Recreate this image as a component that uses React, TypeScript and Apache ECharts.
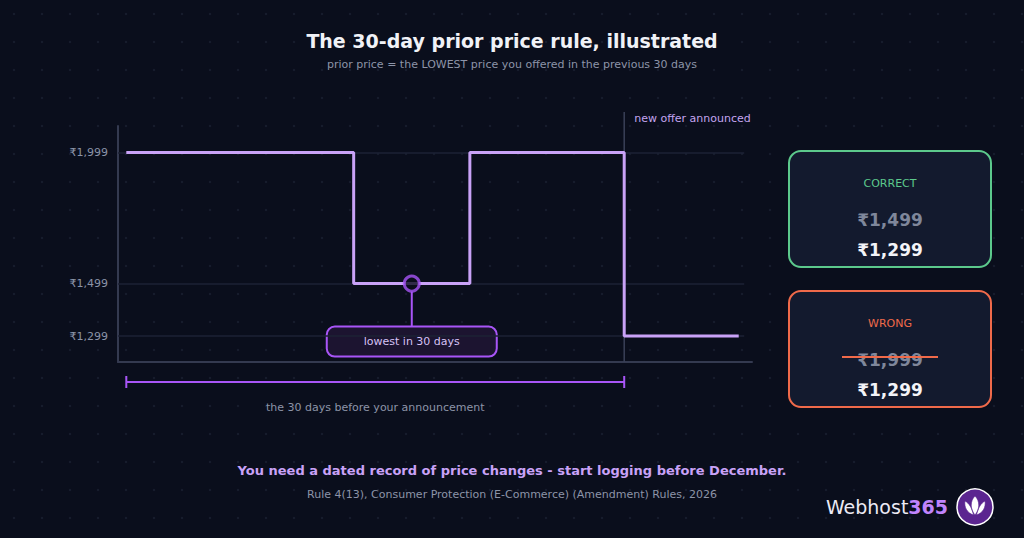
import React, { useEffect, useRef } from "react";
import * as echarts from "echarts";

// ---- data ----
const dayPoints = [-30, -16.3, -16.3, -9.3, -9.3, 0, 0, 6.9];
const pricePoints = [1999, 1999, 1499, 1499, 1999, 1999, 1299, 1299];
const priceTicks = [1299, 1499, 1999];
const lowestPoint = [-12.8, 1499];
const windowDays = [-30, 0];
const announceDay = 0;
const gridLineDays = [-30.5, 7.23];

const titleText = "The 30-day prior price rule, illustrated";
const subtitleText = "prior price = the LOWEST price you offered in the previous 30 days";
const footerText = "You need a dated record of price changes - start logging before December.";
const ruleText = "Rule 4(13), Consumer Protection (E-Commerce) (Amendment) Rules, 2026";
const correctPrices = ["₹1,499", "₹1,299"];
const wrongPrices = ["₹1,999", "₹1,299"];

const FONT = "DejaVu Sans";
const BG = "#0a0e1c";

const fmt = (v: number) => "₹" + v.toLocaleString("en-IN");

export default function App() {
  const ref = useRef<HTMLDivElement>(null);

  useEffect(() => {
    if (!ref.current) return;
    echarts.graphic.registerShape(
      "lotus",
      echarts.graphic.extendPath(
        "M0,-11 C5,-6 5,2 0,8 C-5,2 -5,-6 0,-11 Z M-1.5,8 C-8,6 -11,0 -10,-6 C-6,-4 -3,1 -1.5,8 Z M1.5,8 C8,6 11,0 10,-6 C6,-4 3,1 1.5,8 Z",
        {}
      )
    );
    const chart = echarts.init(ref.current, undefined, { renderer: "svg" });
    const lineData = dayPoints.map((d, i) => [d, pricePoints[i]]);

    chart.setOption({
      animation: false,
      backgroundColor: "transparent",
      textStyle: { fontFamily: FONT },
      grid: { left: 118, right: 272, top: 126, bottom: 176 },
      xAxis: {
        type: "value",
        min: -30.5,
        max: 7.7,
        axisLine: { show: true, onZero: false, lineStyle: { color: "#343a50", width: 2 } },
        axisTick: { show: false },
        axisLabel: { show: false },
        splitLine: { show: false },
      },
      yAxis: {
        type: "value",
        min: 1200,
        max: 2100,
        axisLine: { show: true, onZero: false, lineStyle: { color: "#343a50", width: 2 } },
        axisTick: { show: false },
        splitLine: { show: false },
        axisLabel: {
          customValues: priceTicks,
          formatter: (v: number) => fmt(v),
          color: "#8b93a7",
          fontSize: 11,
          fontFamily: FONT,
          margin: 10,
        },
      },
      series: [
        {
          type: "line",
          data: lineData,
          symbol: "none",
          lineStyle: { color: "#c9a2f7", width: 3 },
          z: 3,
          markLine: {
            silent: true,
            symbol: "none",
            label: { show: false },
            lineStyle: { color: "#1c2235", width: 1.5, type: "solid" },
            data: priceTicks.map((v) => [{ coord: [gridLineDays[0], v] }, { coord: [gridLineDays[1], v] }]),
            z: 1,
          },
        },
        {
          type: "scatter",
          data: [lowestPoint],
          symbol: "circle",
          symbolSize: 15,
          itemStyle: { color: BG, borderColor: "#a855f7", borderWidth: 3 },
          z: 5,
        },
      ],
    });

    const px = (x: number, y: number) => chart.convertToPixel({ gridIndex: 0 }, [x, y]) as number[];
    const [mx, my] = px(lowestPoint[0], lowestPoint[1]);
    const [ax] = px(announceDay, 1200);
    const gridBottom = 362;
    const [bx0] = px(windowDays[0], 1200);
    const [bx1] = px(windowDays[1], 1200);
    const bracketY = gridBottom + 20;
    const boxTop = my + 43;

    const card = (top: number, color: string, label: string, prices: string[], strike: boolean) => {
      const els: any[] = [
        {
          type: "rect",
          shape: { x: 789, y: top, width: 202, height: 116, r: 12 },
          style: { fill: "#131a2e", stroke: color, lineWidth: 2 },
        },
        {
          type: "text",
          x: 890,
          y: top + 32,
          style: { text: label, fill: color, font: `11px "${FONT}"`, align: "center", verticalAlign: "middle" },
        },
        {
          type: "text",
          x: 890,
          y: top + 69,
          style: { text: prices[0], fill: "#7f879b", font: `bold 17px "${FONT}"`, align: "center", verticalAlign: "middle" },
        },
        {
          type: "text",
          x: 890,
          y: top + 99,
          style: { text: prices[1], fill: "#f3f4f8", font: `bold 17px "${FONT}"`, align: "center", verticalAlign: "middle" },
        },
      ];
      if (strike) {
        els.push({
          type: "line",
          shape: { x1: 842, y1: top + 66, x2: 938, y2: top + 66 },
          style: { stroke: color, lineWidth: 2 },
          z: 10,
        });
      }
      return els;
    };

    chart.setOption({
      graphic: [
        {
          type: "text",
          x: 512,
          y: 41,
          style: { text: titleText, fill: "#f1f2f7", font: `bold 19px "${FONT}"`, align: "center", verticalAlign: "middle" },
        },
        {
          type: "text",
          x: 512,
          y: 64,
          style: { text: subtitleText, fill: "#8d94a8", font: `11px "${FONT}"`, align: "center", verticalAlign: "middle" },
        },
        // announcement line
        {
          type: "line",
          shape: { x1: ax, y1: 112, x2: ax, y2: gridBottom },
          style: { stroke: "#3a4058", lineWidth: 1.5 },
          z: 2,
        },
        {
          type: "text",
          x: ax + 10,
          y: 118,
          style: { text: "new offer announced", fill: "#c4a5f0", font: `11px "${FONT}"`, align: "left", verticalAlign: "middle" },
        },
        // connector + lowest box
        {
          type: "line",
          shape: { x1: mx, y1: my + 8, x2: mx, y2: boxTop },
          style: { stroke: "#a855f7", lineWidth: 2 },
        },
        {
          type: "rect",
          shape: { x: mx - 85, y: boxTop, width: 170, height: 30, r: 8 },
          style: { fill: "#1c1430", stroke: "#a855f7", lineWidth: 2 },
        },
        {
          type: "text",
          x: mx,
          y: boxTop + 15,
          style: { text: "lowest in 30 days", fill: "#d6c2f5", font: `11px "${FONT}"`, align: "center", verticalAlign: "middle" },
        },
        // bracket
        {
          type: "line",
          shape: { x1: bx0, y1: bracketY, x2: bx1, y2: bracketY },
          style: { stroke: "#a855f7", lineWidth: 2 },
        },
        {
          type: "line",
          shape: { x1: bx0, y1: bracketY - 6, x2: bx0, y2: bracketY + 6 },
          style: { stroke: "#a855f7", lineWidth: 2 },
        },
        {
          type: "line",
          shape: { x1: bx1, y1: bracketY - 6, x2: bx1, y2: bracketY + 6 },
          style: { stroke: "#a855f7", lineWidth: 2 },
        },
        {
          type: "text",
          x: (bx0 + bx1) / 2,
          y: bracketY + 25,
          style: { text: "the 30 days before your announcement", fill: "#8d94a8", font: `11px "${FONT}"`, align: "center", verticalAlign: "middle" },
        },
        // cards
        ...card(151, "#5cc98c", "CORRECT", correctPrices, false),
        ...card(291, "#f06a4a", "WRONG", wrongPrices, true),
        // footer
        {
          type: "text",
          x: 512,
          y: 470,
          style: { text: footerText, fill: "#c9a2f7", font: `bold 13px "${FONT}"`, align: "center", verticalAlign: "middle" },
        },
        {
          type: "text",
          x: 512,
          y: 494,
          style: { text: ruleText, fill: "#8d94a8", font: `11px "${FONT}"`, align: "center", verticalAlign: "middle" },
        },
        // logo
        {
          type: "text",
          x: 948,
          y: 507,
          style: {
            text: "{a|Webhost}{b|365}",
            align: "right",
            verticalAlign: "middle",
            rich: {
              a: { fill: "#eceaf5", font: `19px "${FONT}"` },
              b: { fill: "#c084fc", font: `bold 19px "${FONT}"` },
            },
          },
        },
        {
          type: "circle",
          shape: { cx: 975, cy: 507, r: 18 },
          style: { fill: "#5b2590", stroke: "#ffffff", lineWidth: 1.5 },
        },
        {
          type: "lotus",
          x: 975,
          y: 507,
          scaleX: 1,
          scaleY: 1,
          style: { fill: "#ffffff", stroke: "#5b2590", lineWidth: 0.6 },
        },
      ],
    });

    return () => chart.dispose();
  }, []);

  return (
    <div
      style={{
        position: "fixed",
        left: 0,
        top: 0,
        width: 1024,
        height: 538,
        backgroundColor: BG,
        backgroundImage: "radial-gradient(circle at 14px 14px, #161c2c 1.2px, transparent 1.6px)",
        backgroundSize: "28px 28px",
      }}
    >
      <div ref={ref} style={{ width: 1024, height: 538 }} />
    </div>
  );
}
